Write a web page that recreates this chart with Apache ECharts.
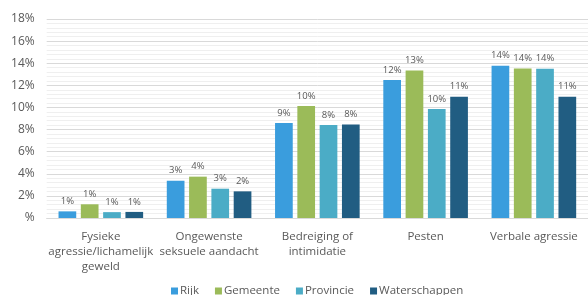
<!DOCTYPE html>
<html><head><meta charset="utf-8">
<script src="https://cdn.jsdelivr.net/npm/echarts@6/dist/echarts.min.js"></script>
<style>html,body{margin:0;padding:0;background:#fff}#c{width:588px;height:295px}</style>
</head><body><div id="c"></div>
<script>
const categories = ['Fysieke\nagressie/lichamelijk\ngeweld', 'Ongewenste\nseksuele aandacht', 'Bedreiging of\nintimidatie', 'Pesten', 'Verbale agressie'];
const seriesNames = ['Rijk', 'Gemeente', 'Provincie', 'Waterschappen'];
const rijk = [0.6, 3.37, 8.59, 12.48, 13.77];
const gemeente = [1.24, 3.74, 10.13, 13.35, 13.53];
const provincie = [0.53, 2.65, 8.41, 9.86, 13.5];
const waterschappen = [0.55, 2.41, 8.45, 10.97, 10.97];
const yTicks = [0, 2, 4, 6, 8, 10, 12, 14, 16, 18];
const colors = ['#3a9ddd', '#9bbb59', '#4bacc6', '#215d82'];
const font = 'Open Sans';
const txt = '#595959';
const data = [rijk, gemeente, provincie, waterschappen];
const chart = echarts.init(document.getElementById('c'));
chart.setOption({
  animation: false,
  textStyle: {fontFamily: font},
  legend: {
    data: seriesNames, left: 166, top: 280, itemWidth: 7, itemHeight: 7, itemGap: 16,
    icon: 'rect', textStyle: {color: txt, fontSize: 11.5, fontFamily: font, padding: [0, 0, 0, -3]}
  },
  grid: {left: 46.7, right: -9.7, top: 19, bottom: 77, containLabel: false},
  xAxis: {
    type: 'category', data: categories,
    axisLine: {show: true, lineStyle: {color: '#d9d9d9'}}, axisTick: {show: false},
    axisLabel: {color: txt, fontSize: 11.5, lineHeight: 15, margin: 11, interval: 0, fontFamily: font}
  },
  yAxis: {
    type: 'value', min: yTicks[0], max: yTicks[yTicks.length - 1], interval: 2,
    axisLine: {show: false}, axisTick: {show: false},
    axisLabel: {color: txt, fontSize: 12, margin: 12, fontFamily: font,
      formatter: v => v === 0 ? '%' : v + '%'},
    splitLine: {lineStyle: {color: '#d9d9d9', width: 1}},
    minorTick: {show: false, splitNumber: 5},
    minorSplitLine: {show: true, lineStyle: {color: '#efefef', width: 1}}
  },
  series: seriesNames.map((n, i) => ({
    name: n, type: 'bar', data: data[i], barWidth: 17.7, barGap: '26%',
    itemStyle: {color: colors[i]},
    label: {show: true, position: 'top', distance: 5, color: txt, fontSize: 9.5, fontFamily: font,
      formatter: p => Math.round(p.value) + '%'}
  }))
});
</script></body></html>
